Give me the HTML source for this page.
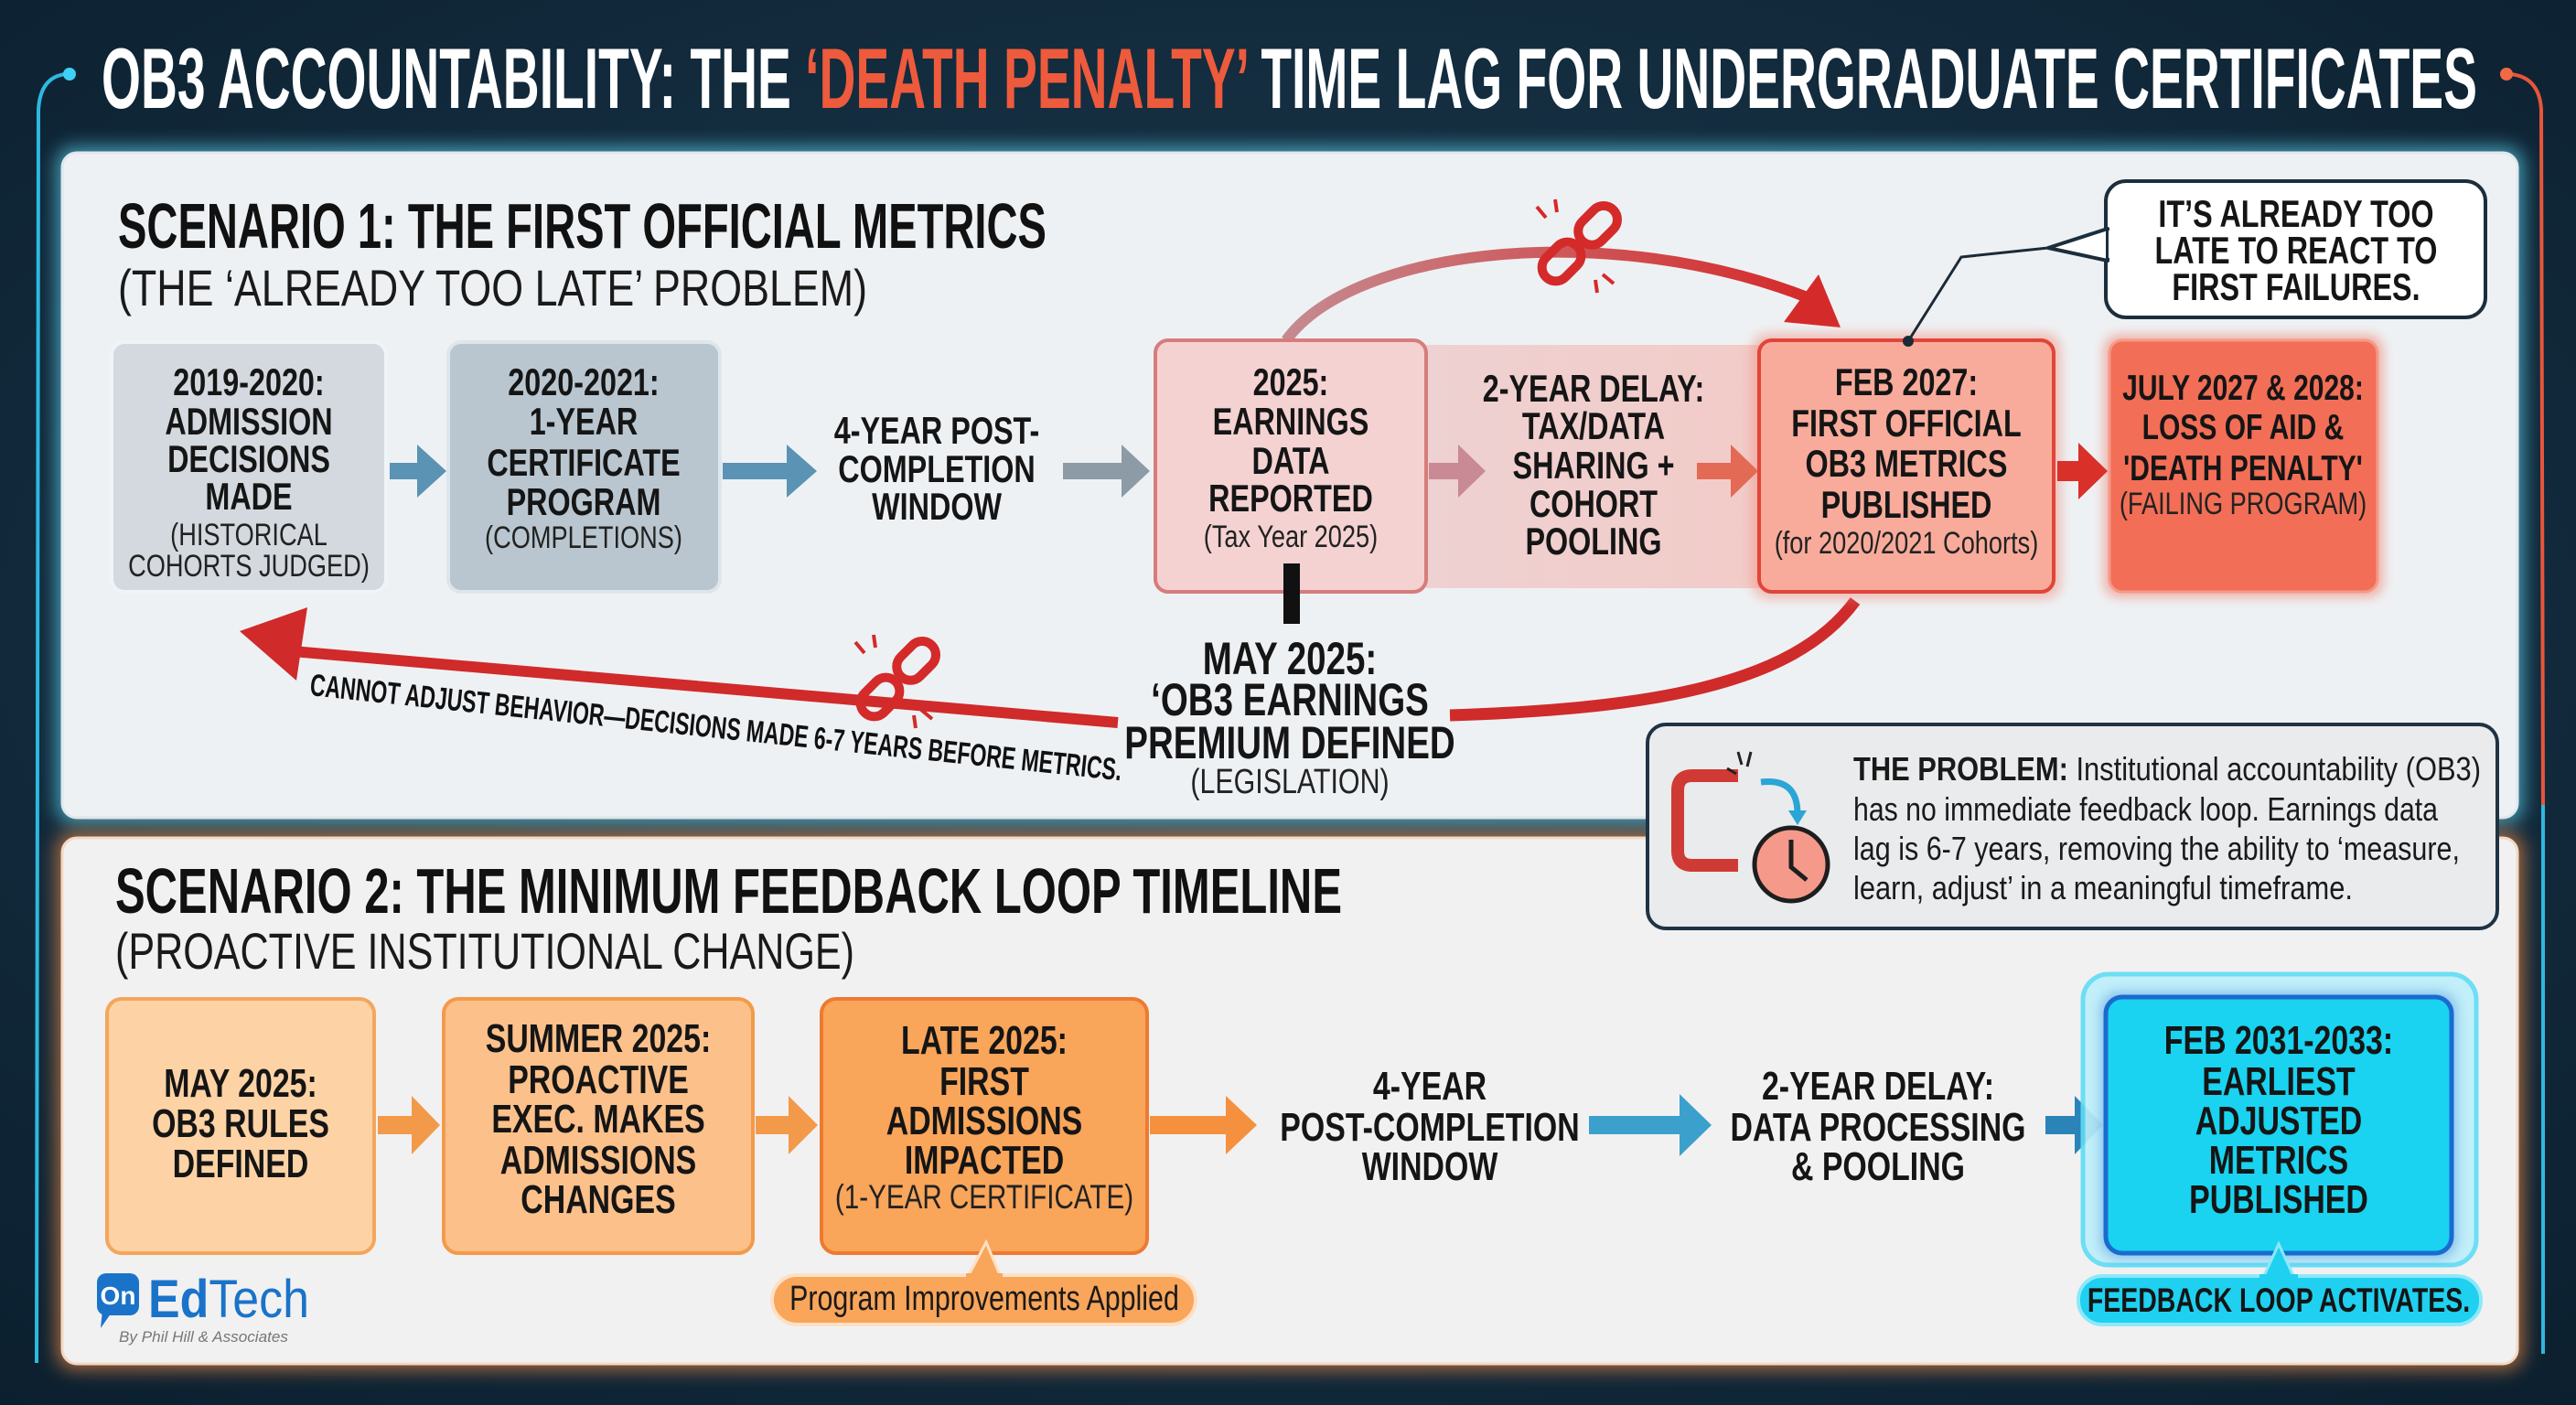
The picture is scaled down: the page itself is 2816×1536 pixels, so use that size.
<!DOCTYPE html>
<html><head><meta charset="utf-8">
<style>
html,body{margin:0;padding:0;background:#0e2435;}
svg{display:block}
.b{font-family:"Liberation Sans",sans-serif;font-weight:700;font-size:42px;fill:#151515;text-anchor:middle;transform-box:fill-box;transform-origin:center;transform:scaleX(.77)}
.n{font-family:"Liberation Sans",sans-serif;font-weight:400;font-size:34px;fill:#222;text-anchor:middle;transform-box:fill-box;transform-origin:center;transform:scaleX(.8)}
.h{font-family:"Liberation Sans",sans-serif;font-weight:700;fill:#111}
.r{font-family:"Liberation Sans",sans-serif;font-weight:400;fill:#1a1a1a}
</style></head><body>
<svg width="2816" height="1536" viewBox="0 0 2816 1536" xmlns="http://www.w3.org/2000/svg">
<defs>
<radialGradient id="bg" cx="50%" cy="45%" r="75%"><stop offset="0" stop-color="#1d3c52"/><stop offset="1" stop-color="#0b1f2e"/></radialGradient>
<linearGradient id="arcg" x1="0" x2="1"><stop offset="0" stop-color="#c58a90"/><stop offset="1" stop-color="#d52a2a"/></linearGradient>
<linearGradient id="band" x1="0" x2="1"><stop offset="0" stop-color="#eec9c9"/><stop offset="1" stop-color="#f3c2bd"/></linearGradient>
<filter id="blur" x="-10%" y="-10%" width="120%" height="120%"><feGaussianBlur stdDeviation="10"/></filter>
<filter id="sh" x="-10%" y="-10%" width="120%" height="120%"><feGaussianBlur stdDeviation="6"/></filter>
</defs>
<rect width="2816" height="1536" fill="url(#bg)"/>

<path d="M72,81 Q44,84 42,120 L40,1490" fill="none" stroke="#2fb8e0" stroke-width="4"/>
<circle cx="76" cy="81" r="7" fill="#3fd0f5"/>
<path d="M2744,81 Q2776,84 2778,120 L2780,880" fill="none" stroke="#e8553a" stroke-width="4"/>
<path d="M2780,880 L2780,1480" fill="none" stroke="#2fb8e0" stroke-width="4"/>
<circle cx="2740" cy="81" r="7" fill="#f06a45"/>

<text x="111" y="118" class="h" font-size="94" textLength="2597" lengthAdjust="spacingAndGlyphs" style="fill:#fff">OB3 ACCOUNTABILITY: THE <tspan style="fill:#ee5a3c">‘DEATH PENALTY’</tspan> TIME LAG FOR UNDERGRADUATE CERTIFICATES</text>

<rect x="62" y="161" width="2696" height="739" rx="18" fill="#5fd4ef" opacity=".7" filter="url(#blur)"/>
<rect x="68" y="167" width="2684" height="727" rx="16" fill="#eef1f4" stroke="#dfe8ee" stroke-width="3"/>
<rect x="62" y="910" width="2696" height="587" rx="18" fill="#f08a45" opacity=".7" filter="url(#blur)"/>
<rect x="68" y="916" width="2684" height="575" rx="16" fill="#f1f1f2" stroke="#f3d9c4" stroke-width="3"/>

<text x="129" y="271" class="h" font-size="70" textLength="1015" lengthAdjust="spacingAndGlyphs">SCENARIO 1: THE FIRST OFFICIAL METRICS</text>
<text x="129" y="334" class="r" font-size="56" textLength="819" lengthAdjust="spacingAndGlyphs">(THE ‘ALREADY TOO LATE’ PROBLEM)</text>

<rect x="1559" y="377" width="370" height="266" fill="url(#band)" opacity=".8"/>

<path d="M1406,372 C1480,270 1760,240 1978,326" fill="none" stroke="url(#arcg)" stroke-width="12"/>
<polygon points="2012,358 1950,352 1988,300" fill="#d52a2a"/>

<!-- bottom return arrow (behind text) -->
<path d="M2028,657 C1960,750 1800,775 1585,782" fill="none" stroke="#cf2b2b" stroke-width="13"/>
<path d="M1222,790 L320,712" fill="none" stroke="#d02a2a" stroke-width="12"/>
<polygon points="262,690 336,664 324,744" fill="#d02a2a"/>

<rect x="122" y="374" width="300" height="273" rx="14" fill="#d3d9de" stroke="#eef4f8" stroke-width="4"/>
<rect x="490" y="374" width="297" height="273" rx="14" fill="#b9c6cf" stroke="#dde6ec" stroke-width="4"/>
<rect x="1263" y="372" width="296" height="275" rx="14" fill="#f4d2d2" stroke="#d77c7c" stroke-width="4"/>
<rect x="1915" y="364" width="338" height="291" rx="18" fill="#f28a78" opacity=".5" filter="url(#sh)"/>
<rect x="1923" y="372" width="322" height="275" rx="14" fill="#f8ab9b" stroke="#e0453a" stroke-width="4"/>
<rect x="2300" y="366" width="305" height="287" rx="16" fill="#f26d55" opacity=".5" filter="url(#sh)"/>
<rect x="2306" y="372" width="293" height="275" rx="14" fill="#f26e56" stroke="#f59a88" stroke-width="3"/>

<polygon points="426,506 456,506 456,486 488,515 456,544 456,524 426,524" fill="#5a93b4"/>
<polygon points="790,506 860,506 860,486 893,515 860,544 860,524 790,524" fill="#5a93b4"/>
<polygon points="1162,506 1226,506 1226,486 1257,515 1226,544 1226,524 1162,524" fill="#8c9ba6"/>
<polygon points="1562,506 1594,506 1594,486 1624,515 1594,544 1594,524 1562,524" fill="#c98a95"/>
<polygon points="1855,506 1892,506 1892,486 1922,515 1892,544 1892,524 1855,524" fill="#e36a55"/>
<polygon points="2249,504 2272,504 2272,484 2304,515 2272,546 2272,526 2249,526" fill="#d9302a"/>

<text x="272" y="432" class="b">2019-2020:</text>
<text x="272" y="475" class="b">ADMISSION</text>
<text x="272" y="516" class="b">DECISIONS</text>
<text x="272" y="557" class="b">MADE</text>
<text x="272" y="596" class="n">(HISTORICAL</text>
<text x="272" y="630" class="n">COHORTS JUDGED)</text>

<text x="638" y="432" class="b">2020-2021:</text>
<text x="638" y="475" class="b">1-YEAR</text>
<text x="638" y="520" class="b">CERTIFICATE</text>
<text x="638" y="563" class="b">PROGRAM</text>
<text x="638" y="599" class="n">(COMPLETIONS)</text>

<text x="1024" y="485" class="b">4-YEAR POST-</text>
<text x="1024" y="527" class="b">COMPLETION</text>
<text x="1024" y="568" class="b">WINDOW</text>

<text x="1411" y="432" class="b">2025:</text>
<text x="1411" y="475" class="b">EARNINGS</text>
<text x="1411" y="518" class="b">DATA</text>
<text x="1411" y="559" class="b">REPORTED</text>
<text x="1411" y="598" class="n">(Tax Year 2025)</text>

<text x="1742" y="439" class="b">2-YEAR DELAY:</text>
<text x="1742" y="480" class="b">TAX/DATA</text>
<text x="1742" y="523" class="b">SHARING +</text>
<text x="1742" y="565" class="b">COHORT</text>
<text x="1742" y="606" class="b">POOLING</text>

<text x="2084" y="432" class="b">FEB 2027:</text>
<text x="2084" y="477" class="b">FIRST OFFICIAL</text>
<text x="2084" y="521" class="b">OB3 METRICS</text>
<text x="2084" y="566" class="b">PUBLISHED</text>
<text x="2084" y="605" class="n">(for 2020/2021 Cohorts)</text>

<text x="2452" y="437" class="b" style="font-size:39px">JULY 2027 &amp; 2028:</text>
<text x="2452" y="480" class="b" style="font-size:39px">LOSS OF AID &amp;</text>
<text x="2452" y="525" class="b" style="font-size:39px">'DEATH PENALTY'</text>
<text x="2452" y="562" class="n">(FAILING PROGRAM)</text>

<path d="M2239,271 L2144,281 L2086,373" fill="none" stroke="#1c2a36" stroke-width="3"/>
<circle cx="2086" cy="373" r="6" fill="#1c2a36"/>
<rect x="2302" y="198" width="415" height="149" rx="22" fill="#fff" stroke="#1c2e3c" stroke-width="4"/>
<polygon points="2304,250 2239,271 2304,285" fill="#fff" stroke="#1c2e3c" stroke-width="4" stroke-linejoin="round"/>
<rect x="2305" y="252" width="8" height="30" fill="#fff"/>
<text x="2510" y="248" class="b">IT’S ALREADY TOO</text>
<text x="2510" y="288" class="b">LATE TO REACT TO</text>
<text x="2510" y="328" class="b">FIRST FAILURES.</text>

<rect x="1403" y="616" width="18" height="66" fill="#111"/>
<text x="1410" y="737" class="b" style="font-size:50px">MAY 2025:</text>
<text x="1410" y="782" class="b" style="font-size:50px">‘OB3 EARNINGS</text>
<text x="1410" y="829" class="b" style="font-size:50px">PREMIUM DEFINED</text>
<text x="1410" y="867" class="n" style="font-size:38px">(LEGISLATION)</text>

<text x="338" y="760" class="h" font-size="34" textLength="892" lengthAdjust="spacingAndGlyphs" transform="rotate(6 338 760)">CANNOT ADJUST BEHAVIOR—DECISIONS MADE 6-7 YEARS BEFORE METRICS.</text>

<g transform="translate(1724,269) rotate(-45)" fill="none" stroke="#d42a2a" stroke-width="10">
<rect x="-48" y="-15" width="48" height="30" rx="15"/><rect x="8" y="-15" width="48" height="30" rx="15"/>
</g>
<g stroke="#d42a2a" stroke-width="4"><line x1="1690" y1="238" x2="1680" y2="226"/><line x1="1702" y1="232" x2="1700" y2="218"/><line x1="1752" y1="300" x2="1764" y2="310"/><line x1="1744" y1="306" x2="1746" y2="320"/></g>
<g transform="translate(979,745) rotate(-45)" fill="none" stroke="#d42a2a" stroke-width="10">
<rect x="-48" y="-15" width="48" height="30" rx="15"/><rect x="8" y="-15" width="48" height="30" rx="15"/>
</g>
<g stroke="#d42a2a" stroke-width="4"><line x1="945" y1="714" x2="935" y2="702"/><line x1="957" y1="708" x2="955" y2="694"/><line x1="1007" y1="776" x2="1019" y2="786"/><line x1="999" y1="782" x2="1001" y2="796"/></g>

<rect x="1801" y="792" width="929" height="223" rx="20" fill="#e9ebec" stroke="#1f3344" stroke-width="4"/>
<path d="M1900,848 L1850,848 Q1834,848 1834,864 L1834,930 Q1834,946 1850,946 L1900,946" fill="none" stroke="#d03a34" stroke-width="14"/>
<path d="M1925,855 Q1965,850 1965,890" fill="none" stroke="#2aa5d6" stroke-width="7"/>
<polygon points="1955,886 1975,886 1965,902" fill="#2aa5d6"/>
<g stroke="#222" stroke-width="3"><line x1="1900" y1="822" x2="1904" y2="836"/><line x1="1888" y1="840" x2="1898" y2="846"/><line x1="1914" y1="822" x2="1910" y2="838"/></g>
<circle cx="1958" cy="945" r="40" fill="#f59a8a" stroke="#1e1e1e" stroke-width="5"/>
<path d="M1958,918 L1958,948 L1975,962" fill="none" stroke="#1e1e1e" stroke-width="5"/>
<text x="2026" y="853" class="r" font-size="36" textLength="686" lengthAdjust="spacingAndGlyphs"><tspan font-weight="700">THE PROBLEM:</tspan> Institutional accountability (OB3)</text>
<text x="2026" y="897" class="r" font-size="36" textLength="639" lengthAdjust="spacingAndGlyphs">has no immediate feedback loop. Earnings data</text>
<text x="2026" y="940" class="r" font-size="36" textLength="663" lengthAdjust="spacingAndGlyphs">lag is 6-7 years, removing the ability to ‘measure,</text>
<text x="2026" y="983" class="r" font-size="36" textLength="546" lengthAdjust="spacingAndGlyphs">learn, adjust’ in a meaningful timeframe.</text>

<text x="126" y="998" class="h" font-size="70" textLength="1341" lengthAdjust="spacingAndGlyphs">SCENARIO 2: THE MINIMUM FEEDBACK LOOP TIMELINE</text>
<text x="126" y="1059" class="r" font-size="56" textLength="808" lengthAdjust="spacingAndGlyphs">(PROACTIVE INSTITUTIONAL CHANGE)</text>

<rect x="117" y="1092" width="292" height="278" rx="16" fill="#fdd3a6" stroke="#f4a65c" stroke-width="4"/>
<rect x="485" y="1092" width="338" height="278" rx="16" fill="#fcc08a" stroke="#f39a4a" stroke-width="4"/>
<rect x="898" y="1092" width="356" height="278" rx="16" fill="#f9a55a" stroke="#ee7a32" stroke-width="4"/>

<polygon points="413,1220 450,1220 450,1198 481,1230 450,1262 450,1240 413,1240" fill="#f39a4a"/>
<polygon points="826,1220 862,1220 862,1198 894,1230 862,1262 862,1240 826,1240" fill="#f39a4a"/>
<polygon points="1257,1220 1340,1220 1340,1198 1374,1230 1340,1262 1340,1240 1257,1240" fill="#f5913e"/>
<polygon points="1737,1220 1836,1220 1836,1196 1871,1230 1836,1264 1836,1240 1737,1240" fill="#3ca0cc"/>
<polygon points="2236,1220 2268,1220 2268,1198 2299,1230 2268,1262 2268,1240 2236,1240" fill="#2a84b8"/>

<text x="263" y="1199" class="b" style="font-size:44px">MAY 2025:</text>
<text x="263" y="1243" class="b" style="font-size:44px">OB3 RULES</text>
<text x="263" y="1287" class="b" style="font-size:44px">DEFINED</text>

<text x="654" y="1150" class="b" style="font-size:44px">SUMMER 2025:</text>
<text x="654" y="1195" class="b" style="font-size:44px">PROACTIVE</text>
<text x="654" y="1238" class="b" style="font-size:44px">EXEC. MAKES</text>
<text x="654" y="1283" class="b" style="font-size:44px">ADMISSIONS</text>
<text x="654" y="1326" class="b" style="font-size:44px">CHANGES</text>

<text x="1076" y="1152" class="b" style="font-size:44px">LATE 2025:</text>
<text x="1076" y="1197" class="b" style="font-size:44px">FIRST</text>
<text x="1076" y="1240" class="b" style="font-size:44px">ADMISSIONS</text>
<text x="1076" y="1283" class="b" style="font-size:44px">IMPACTED</text>
<text x="1076" y="1321" class="n" style="font-size:37px">(1-YEAR CERTIFICATE)</text>

<text x="1563" y="1202" class="b" style="font-size:44px">4-YEAR</text>
<text x="1563" y="1247" class="b" style="font-size:44px">POST-COMPLETION</text>
<text x="1563" y="1290" class="b" style="font-size:44px">WINDOW</text>

<text x="2053" y="1202" class="b" style="font-size:44px">2-YEAR DELAY:</text>
<text x="2053" y="1247" class="b" style="font-size:44px">DATA PROCESSING</text>
<text x="2053" y="1290" class="b" style="font-size:44px">&amp; POOLING</text>

<rect x="844" y="1394" width="463" height="54" rx="27" fill="#f9a55a" stroke="#fde0c4" stroke-width="4"/>
<polygon points="1058,1396 1078,1358 1094,1396" fill="#f9a55a" stroke="#fde0c4" stroke-width="3"/>
<rect x="1056" y="1392" width="40" height="8" fill="#f9a55a"/>
<text x="1076" y="1432" class="n" style="font-size:38px;fill:#1a1a1a">Program Improvements Applied</text>

<rect x="2277" y="1065" width="430" height="318" rx="28" fill="#bdeffa" stroke="#5fdcf5" stroke-width="5" opacity=".9"/>
<rect x="2296" y="1084" width="390" height="292" rx="20" fill="#1a6bd0" opacity=".35" filter="url(#sh)"/>
<rect x="2302" y="1090" width="378" height="280" rx="18" fill="#19d3f0" stroke="#1a6bd0" stroke-width="5"/>
<text x="2491" y="1152" class="b" style="font-size:44px">FEB 2031-2033:</text>
<text x="2491" y="1197" class="b" style="font-size:44px">EARLIEST</text>
<text x="2491" y="1240" class="b" style="font-size:44px">ADJUSTED</text>
<text x="2491" y="1283" class="b" style="font-size:44px">METRICS</text>
<text x="2491" y="1326" class="b" style="font-size:44px">PUBLISHED</text>
<rect x="2272" y="1395" width="440" height="53" rx="26" fill="#1fd0f0" stroke="#8de8f8" stroke-width="4"/>
<polygon points="2474,1397 2491,1360 2508,1397" fill="#1fd0f0" stroke="#8de8f8" stroke-width="3"/>
<rect x="2470" y="1393" width="42" height="8" fill="#1fd0f0"/>
<text x="2491" y="1434" class="b" style="font-size:37px">FEEDBACK LOOP ACTIVATES.</text>

<rect x="106" y="1392" width="46" height="46" rx="10" fill="#1a73c8"/>
<polygon points="112,1432 124,1432 110,1452" fill="#1a73c8"/>
<text x="129" y="1426" font-family="Liberation Sans,sans-serif" font-weight="700" font-size="28" fill="#fff" text-anchor="middle">On</text>
<text x="162" y="1440" font-family="Liberation Sans,sans-serif" font-size="58" fill="#1a73c8" textLength="176" lengthAdjust="spacingAndGlyphs"><tspan font-weight="700">Ed</tspan>Tech</text>
<text x="130" y="1467" font-family="Liberation Sans,sans-serif" font-style="italic" font-size="17" fill="#777" textLength="185" lengthAdjust="spacingAndGlyphs">By Phil Hill &amp; Associates</text>
</svg>
</body></html>
